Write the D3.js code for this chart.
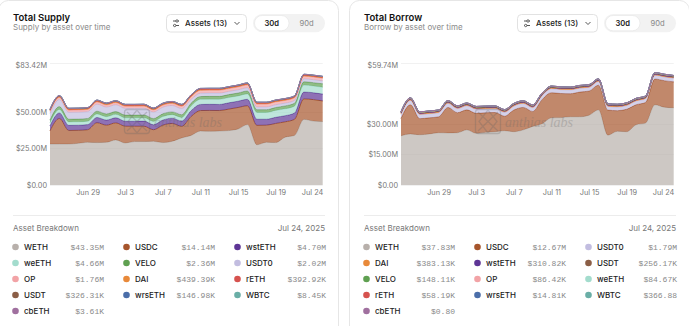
<!DOCTYPE html>
<html>
<head>
<meta charset="utf-8">
<script src="https://cdn.jsdelivr.net/npm/d3@7"></script>
<style>
	body { margin: 0; background: #fff; font-family: Inter, "Noto Sans", sans-serif; }
	svg { display: block; }
</style>
</head>
<body>
<svg id="graph" width="689" height="326"></svg>
<script>
//Data setup - values in $M, Jun 25 to Jul 24 2025
var dates = ["2025-06-25","2025-06-26","2025-06-27","2025-06-28","2025-06-29","2025-06-30",
	"2025-07-01","2025-07-02","2025-07-03","2025-07-04","2025-07-05","2025-07-06","2025-07-07","2025-07-08",
	"2025-07-09","2025-07-10","2025-07-11","2025-07-12","2025-07-13","2025-07-14","2025-07-15","2025-07-16",
	"2025-07-17","2025-07-18","2025-07-19","2025-07-20","2025-07-21","2025-07-22","2025-07-23","2025-07-24"];
var xTicks = ["2025-06-29","2025-07-03","2025-07-07","2025-07-11","2025-07-15","2025-07-19","2025-07-24"];

var assets = ["WETH","USDC","wstETH","weETH","VELO","USDT0","OP","DAI","rETH","USDT","wrsETH","WBTC","cbETH"];
var assetColors = {
	WETH: "#b8b0ab", USDC: "#a6552c", wstETH: "#5e3596", weETH: "#a3dccd", VELO: "#5fa051",
	USDT0: "#c2bde0", OP: "#f2a3a6", DAI: "#e8893a", rETH: "#d6524e", USDT: "#8b5e46",
	wrsETH: "#4b6ea9", WBTC: "#6aaea6", cbETH: "#a0709f"
};

// supply
var supplyWETH = [28.0,28.0,28.0,28.5,29.2,29.0,29.2,30.8,28.7,29.7,29.7,29.9,29.0,29.9,32.2,33.9,36.9,36.7,36.9,37.2,38.3,41.3,27.5,29.2,29.0,32.7,33.9,44.9,43.7,43.35];
var supplyUSDC = [9.0,17.5,9.3,8.9,8.6,13.6,11.7,11.7,11.5,10.5,10.5,7.9,11.9,12.2,7.9,12.9,14.0,14.3,14.0,14.7,14.7,12.9,13.3,11.7,13.1,10.5,11.0,14.0,14.7,14.14];
var supplyWstETH = [3.4,3.8,3.5,3.5,3.5,3.6,3.5,3.5,3.4,3.4,3.5,3.4,3.5,3.6,3.6,4.0,4.2,4.2,4.2,4.3,4.3,4.4,4.2,4.1,4.2,4.2,4.3,4.7,4.7,4.70];
var supplyWeETH = [2.2,2.4,2.3,2.3,2.3,2.4,2.3,2.3,2.3,2.3,2.3,2.3,2.4,2.4,2.5,3.2,3.5,3.5,3.5,3.6,3.6,3.7,4.6,4.6,4.7,4.7,4.7,4.7,4.6,4.66];
var supplyVELO = [1.8,1.9,1.9,1.9,1.9,1.9,1.9,1.9,1.9,1.9,1.9,1.9,1.9,1.9,1.9,1.9,1.9,1.9,2.0,2.0,2.0,2.0,1.9,1.9,2.0,2.0,2.0,2.3,2.3,2.36];
var supplyUSDT0 = [4.6,4.8,4.7,4.7,4.7,4.8,4.7,4.7,4.6,4.6,4.6,4.5,4.5,4.4,4.2,2.6,2.3,2.3,2.3,2.2,2.2,2.2,1.9,1.9,1.9,1.9,1.9,2.0,2.0,2.02];
var supplyOP = [1.4,1.4,1.4,1.4,1.4,1.4,1.4,1.4,1.4,1.4,1.4,1.4,1.4,1.4,1.5,1.8,1.9,1.9,1.9,1.9,1.9,1.9,1.9,1.9,1.9,1.8,1.8,1.8,1.8,1.76];
var supplyDAI = [0.52,0.53,0.52,0.52,0.51,0.51,0.50,0.50,0.50,0.49,0.49,0.48,0.48,0.48,0.47,0.47,0.46,0.46,0.46,0.45,0.45,0.45,0.45,0.44,0.44,0.44,0.44,0.44,0.44,0.43939];
var supplyRETH = [0.38,0.38,0.38,0.38,0.38,0.38,0.38,0.39,0.38,0.38,0.38,0.38,0.38,0.38,0.39,0.39,0.40,0.40,0.40,0.40,0.41,0.42,0.38,0.38,0.38,0.39,0.39,0.40,0.39,0.39292];
var supplyUSDT = [0.30,0.31,0.31,0.31,0.31,0.31,0.31,0.31,0.31,0.31,0.31,0.31,0.31,0.31,0.32,0.32,0.32,0.32,0.32,0.32,0.32,0.32,0.33,0.33,0.33,0.33,0.33,0.33,0.33,0.32631];
var supplyWrsETH = [0.14,0.14,0.14,0.14,0.14,0.14,0.14,0.14,0.14,0.14,0.14,0.14,0.14,0.14,0.14,0.14,0.15,0.15,0.15,0.15,0.15,0.15,0.14,0.14,0.14,0.15,0.15,0.15,0.15,0.14698];
var supplyWBTC = [0.0081,0.0081,0.0081,0.0082,0.0082,0.0082,0.0082,0.0083,0.0082,0.0082,0.0082,0.0082,0.0083,0.0083,0.0083,0.0083,0.0084,0.0084,0.0084,0.0084,0.0085,0.0085,0.0083,0.0083,0.0083,0.0084,0.0084,0.0085,0.0085,0.00845];
var supplyCbETH = [0.0035,0.0035,0.0035,0.0035,0.0035,0.0035,0.0035,0.0036,0.0035,0.0035,0.0035,0.0035,0.0035,0.0035,0.0036,0.0036,0.0036,0.0036,0.0036,0.0036,0.0036,0.0037,0.0035,0.0035,0.0035,0.0036,0.0036,0.0036,0.0036,0.00361];

// borrow
var borrowWETH = [24.1,25.0,24.6,25.0,25.6,25.5,25.6,27.0,25.3,25.8,26.1,26.6,26.1,27.0,28.7,30.0,32.9,33.0,33.4,33.4,34.2,36.8,24.4,26.3,26.1,29.5,30.3,39.3,38.1,37.83];
var borrowUSDC = [8.5,14.3,7.9,7.9,7.8,12.5,9.8,9.8,9.8,9.6,9.4,7.1,10.6,11.0,7.3,11.8,12.3,11.8,11.3,12.1,11.8,12.1,12.3,10.1,11.0,9.8,10.1,12.6,13.0,12.67];
var borrowUSDT0 = [2.0,2.1,2.0,2.0,2.0,2.0,2.0,2.0,2.0,1.9,1.9,1.9,1.9,1.9,1.9,1.9,1.9,1.9,1.9,1.9,1.8,1.8,1.8,1.8,1.8,1.8,1.8,1.8,1.8,1.79];
var borrowDAI = [0.42,0.42,0.42,0.42,0.41,0.41,0.41,0.41,0.41,0.40,0.40,0.40,0.40,0.40,0.40,0.39,0.39,0.39,0.39,0.39,0.39,0.39,0.39,0.38,0.38,0.38,0.38,0.38,0.38,0.38313];
var borrowWstETH = [0.29,0.29,0.29,0.29,0.29,0.29,0.30,0.30,0.30,0.30,0.30,0.30,0.30,0.30,0.30,0.30,0.30,0.31,0.31,0.31,0.31,0.31,0.31,0.31,0.31,0.31,0.31,0.31,0.31,0.31082];
var borrowUSDT = [0.25,0.25,0.25,0.25,0.25,0.25,0.25,0.25,0.25,0.25,0.25,0.25,0.25,0.25,0.26,0.26,0.26,0.26,0.26,0.26,0.26,0.26,0.26,0.26,0.26,0.26,0.26,0.26,0.26,0.25617];
var borrowVELO = [0.16,0.16,0.16,0.16,0.16,0.16,0.16,0.16,0.16,0.15,0.15,0.15,0.15,0.15,0.15,0.15,0.15,0.15,0.15,0.15,0.15,0.15,0.15,0.15,0.15,0.15,0.15,0.15,0.15,0.14811];
var borrowOP = [0.09,0.09,0.09,0.09,0.09,0.09,0.09,0.09,0.09,0.09,0.09,0.09,0.09,0.09,0.09,0.09,0.09,0.09,0.09,0.09,0.09,0.09,0.09,0.09,0.09,0.09,0.09,0.09,0.09,0.08642];
var borrowWeETH = [0.08,0.08,0.08,0.08,0.08,0.08,0.08,0.08,0.08,0.08,0.08,0.08,0.08,0.08,0.08,0.08,0.08,0.08,0.08,0.08,0.08,0.08,0.08,0.08,0.08,0.08,0.08,0.08,0.08,0.08467];
var borrowRETH = [0.06,0.06,0.06,0.06,0.06,0.06,0.06,0.06,0.06,0.06,0.06,0.06,0.06,0.06,0.06,0.06,0.06,0.06,0.06,0.06,0.06,0.06,0.06,0.06,0.06,0.06,0.06,0.06,0.06,0.05819];
var borrowWrsETH = [0.015,0.015,0.015,0.015,0.015,0.015,0.015,0.015,0.015,0.015,0.015,0.015,0.015,0.015,0.015,0.015,0.015,0.015,0.015,0.015,0.015,0.015,0.015,0.015,0.015,0.015,0.015,0.015,0.015,0.01481];
var borrowWBTC = [0.0004,0.0004,0.0004,0.0004,0.0004,0.0004,0.0004,0.0004,0.0004,0.0004,0.0004,0.0004,0.0004,0.0004,0.0004,0.0004,0.0004,0.0004,0.0004,0.0004,0.0004,0.0004,0.0004,0.0004,0.0004,0.0004,0.0004,0.0004,0.0004,0.00036688];
var borrowCbETH = [0.000001,0.000001,0.000001,0.000001,0.000001,0.000001,0.000001,0.000001,0.000001,0.000001,0.000001,0.000001,0.000001,0.000001,0.000001,0.000001,0.000001,0.000001,0.000001,0.000001,0.000001,0.000001,0.000001,0.000001,0.000001,0.000001,0.000001,0.000001,0.000001,0.0000008];

var supplyTicks = [0, 25, 50, 83.42],
	borrowTicks = [0, 15, 30, 59.74];

var supplySeries = {
	WETH: supplyWETH, USDC: supplyUSDC, wstETH: supplyWstETH, weETH: supplyWeETH, VELO: supplyVELO,
	USDT0: supplyUSDT0, OP: supplyOP, DAI: supplyDAI, rETH: supplyRETH, USDT: supplyUSDT,
	wrsETH: supplyWrsETH, WBTC: supplyWBTC, cbETH: supplyCbETH
};
var borrowSeries = {
	WETH: borrowWETH, USDC: borrowUSDC, USDT0: borrowUSDT0, DAI: borrowDAI, wstETH: borrowWstETH,
	USDT: borrowUSDT, VELO: borrowVELO, OP: borrowOP, weETH: borrowWeETH, rETH: borrowRETH,
	wrsETH: borrowWrsETH, WBTC: borrowWBTC, cbETH: borrowCbETH
};

var graph = d3.select("#graph"),
	parseDate = d3.timeParse("%Y-%m-%d"),
	tickFmt = d3.timeFormat("%b %-d"),
	mono = "'Liberation Mono', 'DejaVu Sans Mono', monospace";

var money = function(v) {
	if (v >= 1) return "$" + v.toFixed(2) + "M";
	if (v * 1000 >= 1) return "$" + (v * 1000).toFixed(2) + "K";
	return "$" + (v * 1e6).toFixed(2);
};

var drawCard = function(ox, title, subtitle, series, yTicks) {
	var keys = Object.keys(series),
		rows = dates.map(function(d, i) {
			var r = {date: d};
			keys.forEach(function(k) { r[k] = series[k][i]; });
			return r;
		});

	var card = graph.append("g");
	card.append("rect")
		.attr("x", ox - 14.5).attr("y", 0.5)
		.attr("width", 340).attr("height", 360)
		.attr("rx", 10)
		.attr("fill", "#fff").attr("stroke", "#e6e6e6");

	//header
	card.append("text").attr("x", ox).attr("y", 20.5)
		.attr("font-size", 9.5).attr("font-weight", 600).attr("fill", "#111").text(title);
	card.append("text").attr("x", ox).attr("y", 29.5)
		.attr("font-size", 8).attr("fill", "#8a8a8a").text(subtitle);

	var btn = card.append("g").attr("transform", "translate(" + (ox + 153) + ",14)");
	btn.append("rect").attr("x", 0.5).attr("y", 0.5).attr("width", 80).attr("height", 17.5)
		.attr("rx", 4).attr("fill", "#fff").attr("stroke", "#e2e2e2");
	btn.append("path").attr("d", "M7,7h6M7,11.5h6").attr("stroke", "#444").attr("stroke-width", 0.9);
	btn.append("circle").attr("cx", 11).attr("cy", 7).attr("r", 1.2).attr("fill", "#fff").attr("stroke", "#444").attr("stroke-width", 0.8);
	btn.append("circle").attr("cx", 8.7).attr("cy", 11.5).attr("r", 1.2).attr("fill", "#fff").attr("stroke", "#444").attr("stroke-width", 0.8);
	btn.append("text").attr("x", 19).attr("y", 12.2)
		.attr("font-size", 8).attr("font-weight", 500).attr("fill", "#222").text("Assets (13)");
	btn.append("path").attr("d", "M68.5,8l2.5,2.5l2.5,-2.5").attr("fill", "none")
		.attr("stroke", "#444").attr("stroke-width", 0.9);

	var tog = card.append("g").attr("transform", "translate(" + (ox + 240) + ",14)");
	tog.append("rect").attr("width", 72).attr("height", 18.3).attr("rx", 9.2).attr("fill", "#f2f2f2");
	tog.append("rect").attr("x", 1.5).attr("y", 1.5).attr("width", 34.5).attr("height", 15.3).attr("rx", 7.6)
		.attr("fill", "#fff").attr("stroke", "#e4e4e4").attr("stroke-width", 0.6);
	tog.append("text").attr("x", 18.7).attr("y", 12.2).attr("text-anchor", "middle")
		.attr("font-size", 7.6).attr("font-weight", 600).attr("fill", "#222").text("30d");
	tog.append("text").attr("x", 53.5).attr("y", 12.2).attr("text-anchor", "middle")
		.attr("font-size", 7.6).attr("fill", "#888").text("90d");

	//axes setup
	var x = d3.scaleTime().range([ox + 37, ox + 309.7])
			.domain([parseDate(dates[0]), parseDate(dates[dates.length - 1])]),
		y = d3.scaleLinear().range([185, 63]).domain([0, yTicks[yTicks.length - 1]]);

	card.append("g").selectAll("line").data(yTicks).enter().append("line")
		.attr("x1", ox + 37).attr("x2", ox + 309.7)
		.attr("y1", function(d) { return Math.round(y(d)) + 0.5; })
		.attr("y2", function(d) { return Math.round(y(d)) + 0.5; })
		.attr("stroke", "#f1f1f1");

	var yAxis = card.append("g")
		.attr("transform", "translate(" + (ox + 34) + ",0)")
		.call(d3.axisLeft(y).tickValues(yTicks).tickSize(0).tickPadding(0)
			.tickFormat(function(d) { return d === 0 ? "$0.00" : "$" + d.toFixed(2) + "M"; }));
	yAxis.select(".domain").remove();
	yAxis.attr("font-family", null).attr("font-size", 7.3);
	yAxis.selectAll("text").attr("fill", "#777")
		.attr("dy", function(d, i) { return i === yTicks.length - 1 ? "0.65em" : "0.32em"; });

	var xAxis = card.append("g")
		.attr("transform", "translate(0,190)")
		.call(d3.axisBottom(x).tickValues(xTicks.map(parseDate)).tickSize(0).tickPadding(0).tickFormat(tickFmt));
	xAxis.select(".domain").remove();
	xAxis.attr("font-family", null).attr("font-size", 7.3);
	xAxis.selectAll("text").attr("fill", "#777")
		.attr("text-anchor", function(d, i) { return i === xTicks.length - 1 ? "end" : "middle"; });

	//stacked areas
	var stack = d3.stack().keys(keys)(rows);
	var area = d3.area().curve(d3.curveMonotoneX)
		.x(function(d) { return x(parseDate(d.data.date)); })
		.y0(function(d) { return y(d[0]); })
		.y1(function(d) { return y(d[1]); });
	var top = d3.line().curve(d3.curveMonotoneX)
		.x(function(d) { return x(parseDate(d.data.date)); })
		.y(function(d) { return y(d[1]); });

	var layers = card.append("g").selectAll("g").data(stack).enter().append("g");
	layers.append("path")
		.attr("d", area)
		.attr("fill", function(d) { return assetColors[d.key]; })
		.attr("fill-opacity", 0.7);
	layers.append("path")
		.attr("d", top)
		.attr("fill", "none")
		.attr("stroke", function(d) { return assetColors[d.key]; })
		.attr("stroke-width", 1);

	//watermark
	var wm = card.append("g").attr("opacity", 0.28).attr("transform", "translate(" + (ox + 111) + ",109)");
	wm.append("rect").attr("x", 0.5).attr("y", 0.5).attr("width", 25).attr("height", 24).attr("rx", 3)
		.attr("fill", "none").attr("stroke", "#666").attr("stroke-width", 1.3);
	wm.append("path").attr("d", "M3,3L23,22M23,3L3,22M13,1L4,12.5L13,24L22,12.5Z")
		.attr("fill", "none").attr("stroke", "#666").attr("stroke-width", 1.3);
	wm.append("text").attr("x", 30).attr("y", 18)
		.attr("font-family", "'Liberation Serif', 'DejaVu Serif', serif").attr("font-style", "italic")
		.attr("font-size", 14).attr("fill", "#666").text("anthias labs");

	//legend
	card.append("line").attr("x1", ox).attr("x2", ox + 312).attr("y1", 215.5).attr("y2", 215.5)
		.attr("stroke", "#ececec");
	card.append("text").attr("x", ox).attr("y", 231)
		.attr("font-size", 8).attr("fill", "#777").text("Asset Breakdown");
	card.append("text").attr("x", ox + 312).attr("y", 231).attr("text-anchor", "end")
		.attr("font-size", 8).attr("fill", "#777").text("Jul 24, 2025");

	var items = card.append("g").selectAll("g").data(keys).enter().append("g")
		.attr("transform", function(d, i) {
			return "translate(" + (ox + (i % 3) * 111) + "," + (247 + Math.floor(i / 3) * 16) + ")";
		});
	items.append("circle").attr("cx", 2.5).attr("r", 3.3)
		.attr("fill", function(d) { return assetColors[d]; });
	items.append("text").attr("x", 11).attr("dy", "0.35em")
		.attr("font-size", 8).attr("font-weight", 500).attr("fill", "#222")
		.text(function(d) { return d; });
	items.append("text").attr("x", 91).attr("dy", "0.35em").attr("text-anchor", "end")
		.attr("font-family", mono).attr("font-size", 8).attr("fill", "#8a8a8a")
		.text(function(d) { return money(series[d][dates.length - 1]); });
};

drawCard(13, "Total Supply", "Supply by asset over time", supplySeries, supplyTicks);
drawCard(364, "Total Borrow", "Borrow by asset over time", borrowSeries, borrowTicks);
</script>
</body>
</html>
